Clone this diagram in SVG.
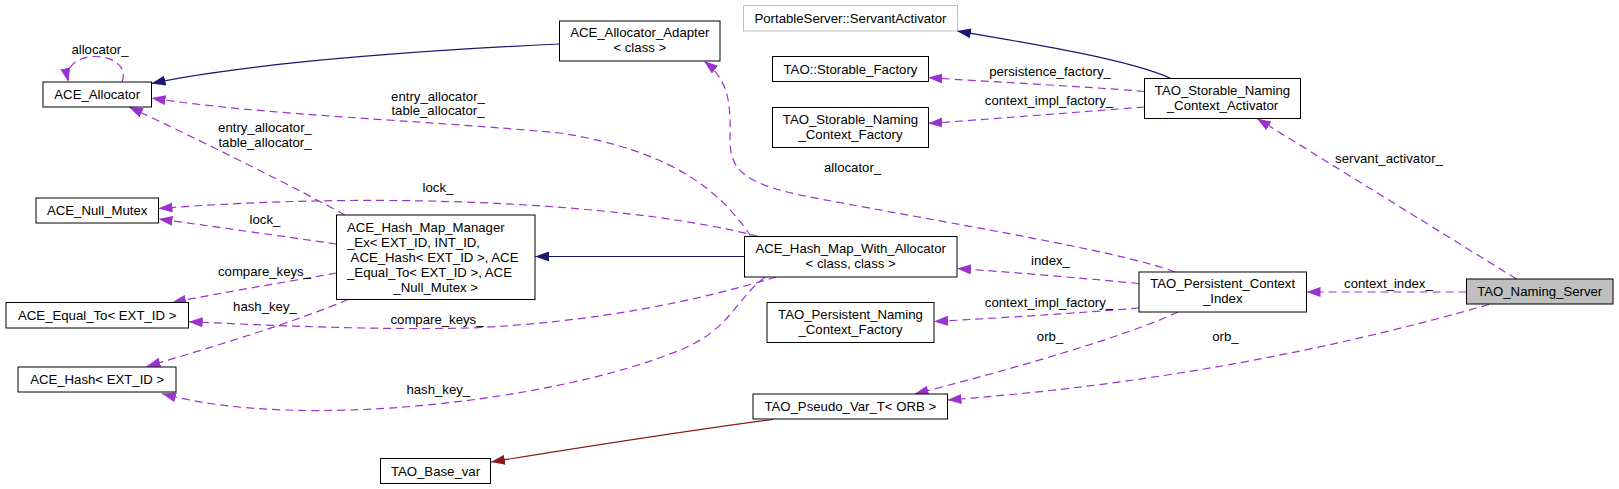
<svg xmlns="http://www.w3.org/2000/svg" width="1619" height="489" viewBox="0 0 1619 489">
<style>
text{font-family:"Liberation Sans",Arial,sans-serif;font-size:13.2px;fill:#000}
.c{text-anchor:middle}
.box{fill:#fff;stroke:#000;stroke-width:1}
.gray{fill:#fff;stroke:#bfbfbf;stroke-width:1}
.self{fill:#bfbfbf;stroke:#000;stroke-width:1}
.inh{fill:none;stroke:#191970;stroke-width:1.2;marker-end:url(#an)}
.tpl{fill:none;stroke:#8b1a1a;stroke-width:1.2;marker-end:url(#ar)}
.use{fill:none;stroke:#9a32cd;stroke-width:1.2;stroke-dasharray:8,5;marker-end:url(#ap)}
</style>
<defs>
<marker id="an" markerUnits="userSpaceOnUse" viewBox="0 0 14 10" refX="14" refY="5" markerWidth="14" markerHeight="10" orient="auto"><path d="M0,0L14,5L0,10z" fill="#191970"/></marker>
<marker id="ap" markerUnits="userSpaceOnUse" viewBox="0 0 14 10" refX="14" refY="5" markerWidth="14" markerHeight="10" orient="auto"><path d="M0,0L14,5L0,10z" fill="#9a32cd"/></marker>
<marker id="ar" markerUnits="userSpaceOnUse" viewBox="0 0 14 10" refX="14" refY="5" markerWidth="14" markerHeight="10" orient="auto"><path d="M0,0L14,5L0,10z" fill="#8b1a1a"/></marker>
</defs>
<rect width="1619" height="489" fill="#fff"/>
<g id="connectors">
<path class="inh" d="M559.5,44 C470,48 260,60 151.5,83.5"/>
<path class="inh" d="M1171,78.5 C1130,60 1040,45 957,31"/>
<path class="inh" d="M744.5,256.5 L535,256.5"/>
<path class="tpl" d="M773,419.5 C700,429 590,446 491,462"/>
<path class="use" d="M122,82 C134,50 60,46 68.5,82"/>
<path class="use" d="M751,236.5 C720,190 670,150 560,133 C420,120 260,115 151.5,98"/>
<path class="use" d="M345,215 C300,190 200,140 129,107"/>
<path class="use" d="M758.5,236.5 C640,205 400,190 158.5,208.5"/>
<path class="use" d="M336.5,244 C280,236 210,226 158.5,219"/>
<path class="use" d="M336.5,273 C280,283 220,293 172,302.5"/>
<path class="use" d="M776,277 C700,300 600,322 470,328 C380,330 280,326 188.7,321.7"/>
<path class="use" d="M348,299.5 C300,320 220,345 146.5,366.5"/>
<path class="use" d="M765,277 C735,300 730,330 680,350 C560,400 300,432 162,393.5"/>
<path class="use" d="M1175,272 C1120,250 900,215 800,195 C745,183 730,170 730,140 C731,100 728,80 704,61"/>
<path class="use" d="M1144.5,91.5 C1080,86 990,82 928.2,77.5"/>
<path class="use" d="M1144.5,107 C1080,112 990,119 928.2,123.5"/>
<path class="use" d="M1516.5,279 L1257,118.5"/>
<path class="use" d="M1466.5,292 L1306.5,292"/>
<path class="use" d="M1139,283.5 C1080,278 1010,272 957,268.5"/>
<path class="use" d="M1139,308 C1080,313 1000,318 934,321.5"/>
<path class="use" d="M1178,312 C1130,335 1010,370 914.5,394"/>
<path class="use" d="M1489,304.5 C1330,350 1150,385 947.5,400"/>
<text class="c" x="100" y="53.5">allocator_</text>
<text class="c" x="265" y="132">entry_allocator_</text>
<text class="c" x="265" y="147">table_allocator_</text>
<text class="c" x="438" y="100.5">entry_allocator_</text>
<text class="c" x="438" y="115">table_allocator_</text>
<text class="c" x="438" y="192">lock_</text>
<text class="c" x="265" y="223.5">lock_</text>
<text class="c" x="264.5" y="275.5">compare_keys_</text>
<text class="c" x="265" y="311">hash_key_</text>
<text class="c" x="437" y="323.5">compare_keys_</text>
<text class="c" x="438.3" y="393.5">hash_key_</text>
<text class="c" x="852.6" y="172">allocator_</text>
<text class="c" x="1050" y="76">persistence_factory_</text>
<text class="c" x="1049" y="104.5">context_impl_factory_</text>
<text class="c" x="1389" y="163">servant_activator_</text>
<text class="c" x="1050.5" y="265">index_</text>
<text class="c" x="1049" y="306.8">context_impl_factory_</text>
<text class="c" x="1050" y="341">orb_</text>
<text class="c" x="1388.4" y="288">context_index_</text>
<text class="c" x="1225.4" y="341">orb_</text>
</g>
<g id="TAO_Naming_Server"><rect class="self" x="1466.5" y="279" width="146.5" height="25"/><text class="c" x="1539.7" y="296">TAO_Naming_Server</text></g>
<g id="TAO_Persistent_Context_Index"><rect class="box" x="1139" y="272" width="167.5" height="40"/><text class="c" x="1222.7" y="288.3">TAO_Persistent_Context</text><text class="c" x="1222.7" y="303.3">_Index</text></g>
<g id="TAO_Storable_Naming_Context_Activator"><rect class="box" x="1144.5" y="78.5" width="156" height="40"/><text class="c" x="1222.5" y="95">TAO_Storable_Naming</text><text class="c" x="1222.5" y="110">_Context_Activator</text></g>
<g id="PortableServer_ServantActivator"><rect class="gray" x="743.5" y="5.5" width="214" height="25.5"/><text class="c" x="850.5" y="22.5">PortableServer::ServantActivator</text></g>
<g id="TAO_Storable_Factory"><rect class="box" x="772.5" y="56.5" width="156" height="25"/><text class="c" x="850.5" y="73.5">TAO::Storable_Factory</text></g>
<g id="TAO_Storable_Naming_Context_Factory"><rect class="box" x="772.5" y="107.5" width="156" height="40"/><text class="c" x="850.5" y="123.5">TAO_Storable_Naming</text><text class="c" x="850.5" y="138.5">_Context_Factory</text></g>
<g id="ACE_Allocator_Adapter"><rect class="box" x="559.5" y="21" width="160.5" height="40"/><text class="c" x="639.8" y="37">ACE_Allocator_Adapter</text><text class="c" x="639.8" y="52">&lt; class &gt;</text></g>
<g id="ACE_Hash_Map_With_Allocator"><rect class="box" x="744.5" y="236.5" width="212.5" height="40.5"/><text class="c" x="850.7" y="252.8">ACE_Hash_Map_With_Allocator</text><text class="c" x="850.7" y="267.8">&lt; class, class &gt;</text></g>
<g id="TAO_Persistent_Naming_Context_Factory"><rect class="box" x="767" y="302.5" width="167" height="40"/><text class="c" x="850.5" y="318.5">TAO_Persistent_Naming</text><text class="c" x="850.5" y="333.5">_Context_Factory</text></g>
<g id="TAO_Pseudo_Var_T_ORB"><rect class="box" x="753" y="394" width="194.5" height="25"/><text class="c" x="850.3" y="411">TAO_Pseudo_Var_T&lt; ORB &gt;</text></g>
<g id="TAO_Base_var"><rect class="box" x="380.5" y="458.5" width="110" height="25"/><text class="c" x="435.5" y="475.5">TAO_Base_var</text></g>
<g id="ACE_Hash_Map_Manager_Ex"><rect class="box" x="336.5" y="215" width="198.5" height="84.5"/><text x="347" y="231.5">ACE_Hash_Map_Manager</text><text x="347" y="246.5">_Ex&lt; EXT_ID, INT_ID,</text><text x="350.6" y="261.5">ACE_Hash&lt; EXT_ID &gt;, ACE</text><text x="347" y="276.5">_Equal_To&lt; EXT_ID &gt;, ACE</text><text class="c" x="435.7" y="291.5">_Null_Mutex &gt;</text></g>
<g id="ACE_Allocator"><rect class="box" x="43" y="82" width="108.5" height="25"/><text class="c" x="97.2" y="99">ACE_Allocator</text></g>
<g id="ACE_Null_Mutex"><rect class="box" x="36" y="198" width="122.5" height="25"/><text class="c" x="97.2" y="215">ACE_Null_Mutex</text></g>
<g id="ACE_Equal_To_EXT_ID"><rect class="box" x="6" y="302.5" width="182.5" height="25.5"/><text class="c" x="97.2" y="319.5">ACE_Equal_To&lt; EXT_ID &gt;</text></g>
<g id="ACE_Hash_EXT_ID"><rect class="box" x="18" y="367" width="158" height="25"/><text class="c" x="97.2" y="384">ACE_Hash&lt; EXT_ID &gt;</text></g>
</svg>
